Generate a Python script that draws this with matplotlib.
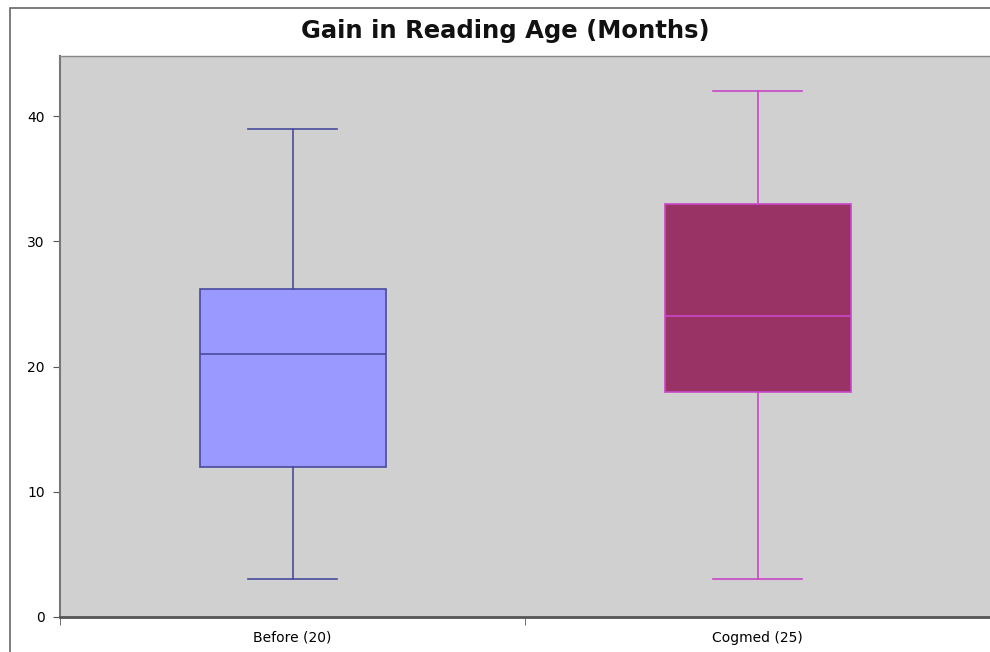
import matplotlib.pyplot as plt
from matplotlib.patches import Rectangle

groups = ["Before (20)", "Cogmed (25)"]
whisker_low = [3, 3]
q1 = [12, 18]
medians = [21, 24]
q3 = [26.2, 33]
whisker_high = [39, 42]

fills = ["#9999ff", "#993366"]
edges = ["#4a4a9c", "#c848c8"]

stats = []
for i, name in enumerate(groups):
    stats.append(dict(label=name, whislo=whisker_low[i], q1=q1[i], med=medians[i],
                      q3=q3[i], whishi=whisker_high[i], fliers=[]))

fig = plt.figure(figsize=(9.9, 6.52), dpi=100)
fig.patch.set_facecolor("white")
# outer frame (only top/left edges fall inside the canvas)
fig.patches.append(Rectangle((9.5 / 990, -0.1), 1.2, 1.1 - 7.5 / 652,
                             transform=fig.transFigure, fill=False,
                             edgecolor="#666666", linewidth=1.2))

ax = fig.add_axes([60 / 990, 1 - 617 / 652, 930 / 990, 561 / 652])
ax.set_facecolor("#d0d0d0")

for i, s in enumerate(stats):
    ax.bxp([s], positions=[i], widths=0.40, patch_artist=True, showfliers=False,
           capwidths=0.19,
           boxprops=dict(facecolor=fills[i], edgecolor=edges[i], linewidth=1.2),
           medianprops=dict(color=edges[i], linewidth=1.2),
           whiskerprops=dict(color=edges[i], linewidth=1.2),
           capprops=dict(color=edges[i], linewidth=1.2))

ax.set_xlim(-0.5, 1.5)
ax.set_ylim(0, 44.8)
ax.set_yticks([0, 10, 20, 30, 40])
ax.set_xticks([0, 1])
ax.set_xticklabels(groups)
ax.set_xticks([-0.5, 0.5, 1.5], minor=True)
ax.tick_params(axis="x", which="major", length=0, labelsize=10, pad=10)
ax.tick_params(axis="x", which="minor", length=6, color="#555555", direction="out")
ax.tick_params(axis="y", length=5, color="#555555", labelsize=10, pad=6)

ax.spines["right"].set_visible(False)
ax.spines["top"].set_color("#888888")
ax.spines["top"].set_linewidth(1.0)
ax.spines["left"].set_color("#777777")
ax.spines["left"].set_linewidth(1.5)
ax.spines["bottom"].set_color("#555555")
ax.spines["bottom"].set_linewidth(2.0)

fig.text(505 / 990, 1 - 31 / 652, "Gain in Reading Age (Months)", ha="center",
         va="center", fontsize=17.5, fontweight="bold", color="#111111")

fig.savefig("out.png", dpi=100)
